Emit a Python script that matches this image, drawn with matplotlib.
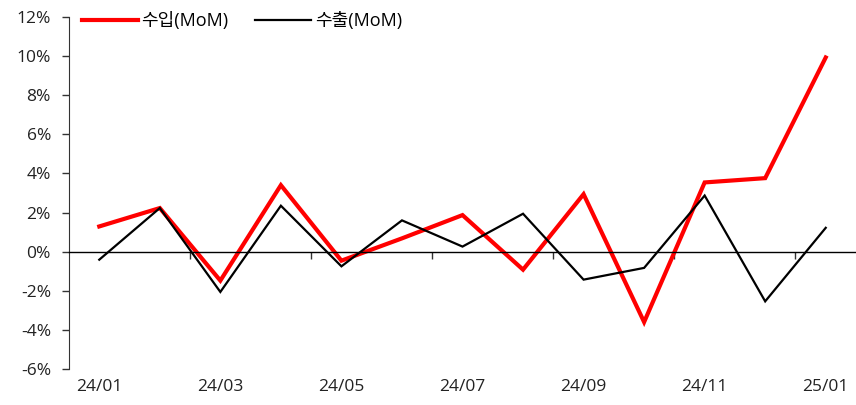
import matplotlib
matplotlib.use("Agg")
import matplotlib.pyplot as plt
import numpy as np

plt.rcParams['font.family'] = ['Open Sans', 'Noto Sans CJK KR', 'DejaVu Sans']

months = ["24/01", "24/02", "24/03", "24/04", "24/05", "24/06", "24/07",
          "24/08", "24/09", "24/10", "24/11", "24/12", "25/01"]
imports_mom = [1.29, 2.23, -1.48, 3.40, -0.46, 0.68, 1.87, -0.92, 2.94, -3.60, 3.54, 3.76, 9.93]
exports_mom = [-0.41, 2.23, -2.06, 2.35, -0.75, 1.60, 0.26, 1.94, -1.43, -0.83, 2.87, -2.54, 1.22]
yticks = [-6, -4, -2, 0, 2, 4, 6, 8, 10, 12]
label_names = ["수입(MoM)", "수출(MoM)"]

fig = plt.figure(figsize=(8.56, 4.05), dpi=100)
ax = fig.add_axes([69/856, 1-369/405, 1-69/856, (369-17)/405])

x = np.arange(len(months))
ax.plot(x, imports_mom, color='#ff0000', lw=3.0, label=label_names[0], solid_joinstyle='miter')
ax.plot(x, exports_mom, color='#000000', lw=1.6, label=label_names[1], solid_joinstyle='miter')

ax.set_xlim(-0.5, len(months) - 0.5)
ax.set_ylim(-6, 12)
ax.set_yticks(yticks)
ax.set_yticklabels([f"{v}%" for v in yticks], fontsize=12.5, color='#222222')
ax.tick_params(axis='y', direction='out', length=5, width=1, color='#333333', pad=8)

for s in ['top', 'right']:
    ax.spines[s].set_visible(False)
ax.spines['left'].set_color('#333333')
ax.spines['bottom'].set_position(('data', 0))
ax.spines['bottom'].set_color('#000000')
ax.spines['bottom'].set_linewidth(1.0)

ax.set_xticks(np.arange(1.5, len(months) - 1, 2))
ax.set_xticklabels([])
ax.tick_params(axis='x', direction='out', length=5, width=1, color='#333333')

sec = ax.secondary_xaxis('bottom')
sec.set_xticks(x[::2])
sec.set_xticklabels(months[::2], fontsize=12.5, color='#222222')
sec.tick_params(length=0, pad=7)
sec.spines['bottom'].set_visible(False)

ax.legend(loc='upper left', ncol=2, frameon=False, fontsize=13,
          handlelength=3.1, handletextpad=0.2, columnspacing=1.5,
          bbox_to_anchor=(0.0, 1.05), borderaxespad=0.3)

fig.savefig("out.png", dpi=100)
